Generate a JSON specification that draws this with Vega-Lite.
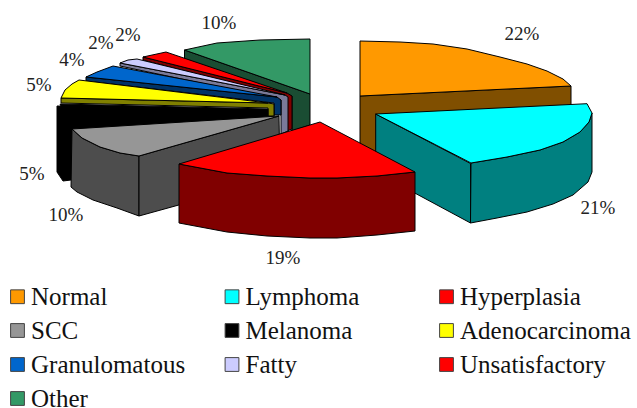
{"$schema":"https://vega.github.io/schema/vega-lite/v6.json","width":637,"height":408,"padding":0,"autosize":"none","background":"white","config":{"view":{"stroke":null}},
"datasets":{
"tops":[
{"s":"Normal","v":1,"x":360,"y":41},{"s":"Normal","v":2,"x":400,"y":42},{"s":"Normal","v":3,"x":433,"y":44},{"s":"Normal","v":4,"x":467,"y":49},{"s":"Normal","v":5,"x":500,"y":57},{"s":"Normal","v":6,"x":527,"y":64},{"s":"Normal","v":7,"x":547,"y":71},{"s":"Normal","v":8,"x":563,"y":79},{"s":"Normal","v":9,"x":571,"y":86},{"s":"Normal","v":10,"x":360,"y":96},{"s":"Normal","v":11,"x":360,"y":41},
{"s":"Other","v":1,"x":184.5,"y":50},{"s":"Other","v":2,"x":217,"y":43},{"s":"Other","v":3,"x":260,"y":40},{"s":"Other","v":4,"x":310,"y":39},{"s":"Other","v":5,"x":310,"y":94},{"s":"Other","v":6,"x":184.5,"y":50},
{"s":"Unsatisfactory","v":1,"x":143,"y":57},{"s":"Unsatisfactory","v":2,"x":166,"y":52},{"s":"Unsatisfactory","v":3,"x":287,"y":93},{"s":"Unsatisfactory","v":4,"x":143,"y":57},
{"s":"Fatty","v":1,"x":120,"y":63},{"s":"Fatty","v":2,"x":128,"y":60},{"s":"Fatty","v":3,"x":137,"y":59},{"s":"Fatty","v":4,"x":285,"y":95},{"s":"Fatty","v":5,"x":120,"y":63},
{"s":"Granulomatous","v":1,"x":86,"y":77},{"s":"Granulomatous","v":2,"x":97,"y":72},{"s":"Granulomatous","v":3,"x":113,"y":66},{"s":"Granulomatous","v":4,"x":277,"y":97},{"s":"Granulomatous","v":5,"x":86,"y":77},
{"s":"Adenocarcinoma","v":1,"x":79,"y":80},{"s":"Adenocarcinoma","v":2,"x":268,"y":103},{"s":"Adenocarcinoma","v":3,"x":61,"y":98},{"s":"Adenocarcinoma","v":4,"x":65,"y":90},{"s":"Adenocarcinoma","v":5,"x":72,"y":84},{"s":"Adenocarcinoma","v":6,"x":79,"y":80},
{"s":"Melanoma","v":1,"x":60,"y":104},{"s":"Melanoma","v":2,"x":268,"y":109},{"s":"Melanoma","v":3,"x":268,"y":116},{"s":"Melanoma","v":4,"x":72,"y":129},{"s":"Melanoma","v":5,"x":60,"y":104},
{"s":"SCC","v":1,"x":72,"y":129},{"s":"SCC","v":2,"x":279,"y":116},{"s":"SCC","v":3,"x":139,"y":156},{"s":"SCC","v":4,"x":120,"y":153},{"s":"SCC","v":5,"x":100,"y":147},{"s":"SCC","v":6,"x":82,"y":138},{"s":"SCC","v":7,"x":72,"y":129},
{"s":"Lymphoma","v":1,"x":375.7,"y":114},{"s":"Lymphoma","v":2,"x":587,"y":103.7},{"s":"Lymphoma","v":3,"x":592,"y":113},{"s":"Lymphoma","v":4,"x":589,"y":122},{"s":"Lymphoma","v":5,"x":580,"y":132},{"s":"Lymphoma","v":6,"x":563,"y":142},{"s":"Lymphoma","v":7,"x":540,"y":150},{"s":"Lymphoma","v":8,"x":507,"y":157},{"s":"Lymphoma","v":9,"x":471,"y":163},{"s":"Lymphoma","v":10,"x":375.7,"y":114},
{"s":"Hyperplasia","v":1,"x":320,"y":122},{"s":"Hyperplasia","v":2,"x":415,"y":172},{"s":"Hyperplasia","v":3,"x":377,"y":176},{"s":"Hyperplasia","v":4,"x":337,"y":178},{"s":"Hyperplasia","v":5,"x":310,"y":178},{"s":"Hyperplasia","v":6,"x":267,"y":176},{"s":"Hyperplasia","v":7,"x":227,"y":173},{"s":"Hyperplasia","v":8,"x":179,"y":164},{"s":"Hyperplasia","v":9,"x":320,"y":122}
],
"sides":[
{"s":"Normal","f":"Normal outer","v":1,"x":360,"y":96},{"s":"Normal","f":"Normal outer","v":2,"x":571,"y":86},{"s":"Normal","f":"Normal outer","v":3,"x":571,"y":112},{"s":"Normal","f":"Normal outer","v":4,"x":360,"y":160},{"s":"Normal","f":"Normal outer","v":5,"x":360,"y":96},
{"s":"Other","f":"Other inner","v":1,"x":184.5,"y":50},{"s":"Other","f":"Other inner","v":2,"x":310,"y":94},{"s":"Other","f":"Other inner","v":3,"x":310,"y":125},{"s":"Other","f":"Other inner","v":4,"x":292,"y":131},{"s":"Other","f":"Other inner","v":5,"x":292,"y":96},{"s":"Other","f":"Other inner","v":6,"x":184.5,"y":59},{"s":"Other","f":"Other inner","v":7,"x":184.5,"y":50},
{"s":"Unsatisfactory","f":"Unsatisfactory inner","v":1,"x":143,"y":57},{"s":"Unsatisfactory","f":"Unsatisfactory inner","v":2,"x":287,"y":93},{"s":"Unsatisfactory","f":"Unsatisfactory inner","v":3,"x":292,"y":96},{"s":"Unsatisfactory","f":"Unsatisfactory inner","v":4,"x":292,"y":129},{"s":"Unsatisfactory","f":"Unsatisfactory inner","v":5,"x":287,"y":131},{"s":"Unsatisfactory","f":"Unsatisfactory inner","v":6,"x":287,"y":98},{"s":"Unsatisfactory","f":"Unsatisfactory inner","v":7,"x":143,"y":60},{"s":"Unsatisfactory","f":"Unsatisfactory inner","v":8,"x":143,"y":57},
{"s":"Fatty","f":"Fatty inner","v":1,"x":120,"y":63},{"s":"Fatty","f":"Fatty inner","v":2,"x":285,"y":95},{"s":"Fatty","f":"Fatty inner","v":3,"x":288,"y":97},{"s":"Fatty","f":"Fatty inner","v":4,"x":288,"y":131},{"s":"Fatty","f":"Fatty inner","v":5,"x":281,"y":134},{"s":"Fatty","f":"Fatty inner","v":6,"x":281,"y":100},{"s":"Fatty","f":"Fatty inner","v":7,"x":120,"y":66},{"s":"Fatty","f":"Fatty inner","v":8,"x":120,"y":63},
{"s":"Granulomatous","f":"Granulomatous inner","v":1,"x":86,"y":77},{"s":"Granulomatous","f":"Granulomatous inner","v":2,"x":277,"y":97},{"s":"Granulomatous","f":"Granulomatous inner","v":3,"x":281,"y":100},{"s":"Granulomatous","f":"Granulomatous inner","v":4,"x":281,"y":115},{"s":"Granulomatous","f":"Granulomatous inner","v":5,"x":274,"y":115},{"s":"Granulomatous","f":"Granulomatous inner","v":6,"x":274,"y":103},{"s":"Granulomatous","f":"Granulomatous inner","v":7,"x":86,"y":81},{"s":"Granulomatous","f":"Granulomatous inner","v":8,"x":86,"y":77},
{"s":"Melanoma","f":"Melanoma outer","v":1,"x":57,"y":106},{"s":"Melanoma","f":"Melanoma outer","v":2,"x":274,"y":110},{"s":"Melanoma","f":"Melanoma outer","v":3,"x":274,"y":117},{"s":"Melanoma","f":"Melanoma outer","v":4,"x":140,"y":170},{"s":"Melanoma","f":"Melanoma outer","v":5,"x":71,"y":180},{"s":"Melanoma","f":"Melanoma outer","v":6,"x":63,"y":181},{"s":"Melanoma","f":"Melanoma outer","v":7,"x":57,"y":172},{"s":"Melanoma","f":"Melanoma outer","v":8,"x":57,"y":106},
{"s":"Adenocarcinoma","f":"Adenocarcinoma inner","v":1,"x":61,"y":98},{"s":"Adenocarcinoma","f":"Adenocarcinoma inner","v":2,"x":268,"y":103},{"s":"Adenocarcinoma","f":"Adenocarcinoma inner","v":3,"x":274,"y":104},{"s":"Adenocarcinoma","f":"Adenocarcinoma inner","v":4,"x":274,"y":116},{"s":"Adenocarcinoma","f":"Adenocarcinoma inner","v":5,"x":268,"y":116},{"s":"Adenocarcinoma","f":"Adenocarcinoma inner","v":6,"x":268,"y":108},{"s":"Adenocarcinoma","f":"Adenocarcinoma inner","v":7,"x":61,"y":103},{"s":"Adenocarcinoma","f":"Adenocarcinoma inner","v":8,"x":61,"y":98},
{"s":"SCC","f":"SCC outer","v":1,"x":72,"y":129},{"s":"SCC","f":"SCC outer","v":2,"x":82,"y":138},{"s":"SCC","f":"SCC outer","v":3,"x":100,"y":147},{"s":"SCC","f":"SCC outer","v":4,"x":120,"y":153},{"s":"SCC","f":"SCC outer","v":5,"x":139,"y":156},{"s":"SCC","f":"SCC outer","v":6,"x":139,"y":216},{"s":"SCC","f":"SCC outer","v":7,"x":117,"y":208},{"s":"SCC","f":"SCC outer","v":8,"x":93,"y":200},{"s":"SCC","f":"SCC outer","v":9,"x":77,"y":192},{"s":"SCC","f":"SCC outer","v":10,"x":71,"y":187},{"s":"SCC","f":"SCC outer","v":11,"x":72,"y":129},
{"s":"SCC","f":"SCC radial","v":1,"x":139,"y":156},{"s":"SCC","f":"SCC radial","v":2,"x":279,"y":116},{"s":"SCC","f":"SCC radial","v":3,"x":280,"y":177},{"s":"SCC","f":"SCC radial","v":4,"x":139,"y":216},{"s":"SCC","f":"SCC radial","v":5,"x":139,"y":156},
{"s":"Lymphoma","f":"Lymphoma radial","v":1,"x":375.7,"y":114},{"s":"Lymphoma","f":"Lymphoma radial","v":2,"x":470.5,"y":163.5},{"s":"Lymphoma","f":"Lymphoma radial","v":3,"x":470.5,"y":223},{"s":"Lymphoma","f":"Lymphoma radial","v":4,"x":375.7,"y":172},{"s":"Lymphoma","f":"Lymphoma radial","v":5,"x":375.7,"y":114},
{"s":"Lymphoma","f":"Lymphoma outer","v":1,"x":471,"y":163},{"s":"Lymphoma","f":"Lymphoma outer","v":2,"x":507,"y":157},{"s":"Lymphoma","f":"Lymphoma outer","v":3,"x":540,"y":150},{"s":"Lymphoma","f":"Lymphoma outer","v":4,"x":563,"y":142},{"s":"Lymphoma","f":"Lymphoma outer","v":5,"x":580,"y":132},{"s":"Lymphoma","f":"Lymphoma outer","v":6,"x":589,"y":122},{"s":"Lymphoma","f":"Lymphoma outer","v":7,"x":592,"y":113},{"s":"Lymphoma","f":"Lymphoma outer","v":8,"x":592,"y":172},{"s":"Lymphoma","f":"Lymphoma outer","v":9,"x":588,"y":182},{"s":"Lymphoma","f":"Lymphoma outer","v":10,"x":573,"y":195},{"s":"Lymphoma","f":"Lymphoma outer","v":11,"x":553,"y":204},{"s":"Lymphoma","f":"Lymphoma outer","v":12,"x":527,"y":212},{"s":"Lymphoma","f":"Lymphoma outer","v":13,"x":497,"y":218},{"s":"Lymphoma","f":"Lymphoma outer","v":14,"x":470.5,"y":223},{"s":"Lymphoma","f":"Lymphoma outer","v":15,"x":471,"y":163},
{"s":"Hyperplasia","f":"Hyperplasia outer","v":1,"x":179,"y":164},{"s":"Hyperplasia","f":"Hyperplasia outer","v":2,"x":227,"y":173},{"s":"Hyperplasia","f":"Hyperplasia outer","v":3,"x":267,"y":176},{"s":"Hyperplasia","f":"Hyperplasia outer","v":4,"x":310,"y":178},{"s":"Hyperplasia","f":"Hyperplasia outer","v":5,"x":337,"y":178},{"s":"Hyperplasia","f":"Hyperplasia outer","v":6,"x":377,"y":176},{"s":"Hyperplasia","f":"Hyperplasia outer","v":7,"x":415,"y":172},{"s":"Hyperplasia","f":"Hyperplasia outer","v":8,"x":415,"y":231},{"s":"Hyperplasia","f":"Hyperplasia outer","v":9,"x":377,"y":235},{"s":"Hyperplasia","f":"Hyperplasia outer","v":10,"x":337,"y":238},{"s":"Hyperplasia","f":"Hyperplasia outer","v":11,"x":310,"y":238},{"s":"Hyperplasia","f":"Hyperplasia outer","v":12,"x":267,"y":236},{"s":"Hyperplasia","f":"Hyperplasia outer","v":13,"x":227,"y":232},{"s":"Hyperplasia","f":"Hyperplasia outer","v":14,"x":179,"y":223},{"s":"Hyperplasia","f":"Hyperplasia outer","v":15,"x":179,"y":164}
],
"labels":[
{"t":"22%","x":522,"y":34},{"t":"21%","x":598,"y":208},{"t":"19%","x":283,"y":258},{"t":"10%","x":66,"y":215},{"t":"5%","x":32,"y":174},{"t":"5%","x":39,"y":85},{"t":"4%","x":72,"y":60},{"t":"2%","x":101,"y":43},{"t":"2%","x":128,"y":35},{"t":"10%","x":219,"y":23}
]},
"resolve":{"scale":{"fill":"independent"},"legend":{"fill":"independent"}},
"encoding":{
"x":{"field":"x","type":"quantitative","scale":{"domain":[0,637]},"axis":null},
"y":{"field":"y","type":"quantitative","scale":{"domain":[0,408],"reverse":true},"axis":null}
},
"layer":[
{"data":{"name":"sides"},"mark":{"type":"line","stroke":"black","strokeWidth":1,"strokeJoin":"round"},
"encoding":{"detail":{"field":"f"},"order":{"field":"v","type":"quantitative"},
"fill":{"field":"s","type":"nominal","legend":null,"scale":{"domain":["Normal","Lymphoma","Hyperplasia","SCC","Melanoma","Adenocarcinoma","Granulomatous","Fatty","Unsatisfactory","Other"],"range":["#804f00","#008080","#800000","#4d4d4d","#000000","#808000","#003366","#7a7a99","#800000","#1a4d33"]}}}},
{"data":{"name":"tops"},"mark":{"type":"line","stroke":"black","strokeWidth":1,"strokeJoin":"round"},
"encoding":{"order":{"field":"v","type":"quantitative"},
"fill":{"field":"s","type":"nominal","scale":{"domain":["Normal","Lymphoma","Hyperplasia","SCC","Melanoma","Adenocarcinoma","Granulomatous","Fatty","Unsatisfactory","Other"],"range":["#ff9900","#00ffff","#ff0000","#969696","#000000","#ffff00","#0066cc","#ccccff","#ff0000","#339966"]},
"legend":{"orient":"none","legendX":5,"legendY":284,"title":null,"direction":"horizontal","columns":3,"gridAlign":"all","columnPadding":17.5,"rowPadding":8,"symbolType":"square","symbolSize":190,"symbolStrokeColor":"#444","symbolStrokeWidth":1,"labelFont":"Liberation Serif","labelFontSize":25,"labelColor":"#111","labelLimit":300,"labelOffset":1,"symbolOpacity":1}}}},
{"data":{"name":"labels"},"mark":{"type":"text","font":"Liberation Serif","fontSize":19,"color":"#222","align":"center","baseline":"middle"},
"encoding":{"text":{"field":"t"}}}
]}
